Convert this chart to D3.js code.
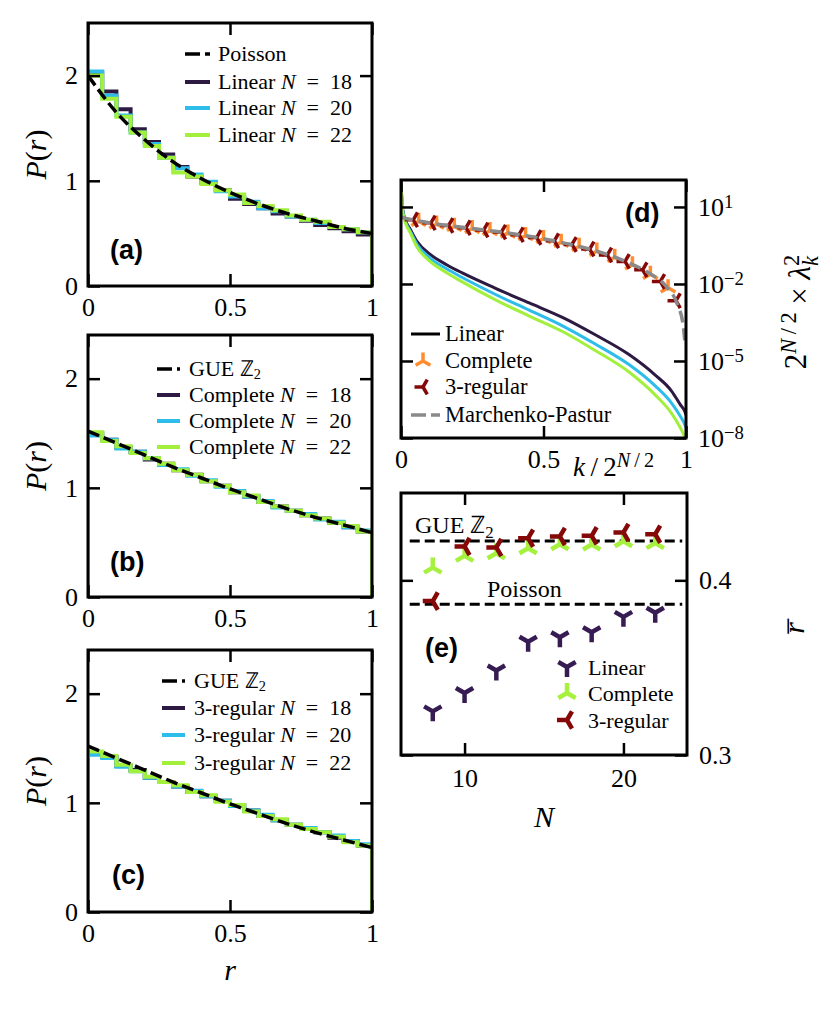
<!DOCTYPE html>
<html>
<head>
<meta charset="utf-8">
<script src="https://cdn.jsdelivr.net/npm/d3@7"></script>
<style>
  body { margin: 0; background: #fff; }
  svg text { font-family: 'Liberation Serif', 'Times New Roman', serif; }
  svg text.plab { font-family: 'Liberation Sans', Arial, sans-serif; font-weight: bold; }
</style>
</head>
<body>
<div id="chart"></div>
<script>
// ---------- data ----------
const sizes = [18, 20, 22];
const binEdges = [0, 0.05, 0.1, 0.15, 0.2, 0.25, 0.3, 0.35, 0.4, 0.45, 0.5,
                  0.55, 0.6, 0.65, 0.7, 0.75, 0.8, 0.85, 0.9, 0.95, 1.0];

// (a) linear graphs, P(r) per bin
const linearHist = [
  [2.03, 1.85, 1.68, 1.49, 1.37, 1.25, 1.13, 1.04, 0.98, 0.91, 0.83, 0.78, 0.74, 0.69, 0.66, 0.62, 0.58, 0.55, 0.52, 0.49],
  [2.04, 1.81, 1.62, 1.46, 1.35, 1.22, 1.12, 1.06, 0.99, 0.90, 0.85, 0.80, 0.74, 0.71, 0.66, 0.63, 0.60, 0.56, 0.54, 0.51],
  [2.00, 1.78, 1.61, 1.46, 1.33, 1.22, 1.08, 1.04, 0.97, 0.91, 0.87, 0.79, 0.76, 0.72, 0.67, 0.63, 0.61, 0.56, 0.54, 0.51]
];
// (b) complete graphs
const completeHist = [
  [1.50, 1.44, 1.37, 1.33, 1.26, 1.22, 1.16, 1.12, 1.06, 1.02, 0.96, 0.92, 0.87, 0.83, 0.79, 0.75, 0.72, 0.68, 0.64, 0.60],
  [1.48, 1.44, 1.36, 1.33, 1.27, 1.21, 1.17, 1.11, 1.07, 1.01, 0.97, 0.92, 0.88, 0.82, 0.79, 0.76, 0.71, 0.69, 0.64, 0.61],
  [1.51, 1.43, 1.38, 1.32, 1.27, 1.22, 1.16, 1.12, 1.06, 1.02, 0.96, 0.93, 0.87, 0.83, 0.79, 0.75, 0.72, 0.68, 0.65, 0.60]
];
// (c) 3-regular graphs
const regularHist = [
  [1.45, 1.42, 1.34, 1.30, 1.23, 1.19, 1.15, 1.10, 1.06, 1.02, 0.98, 0.93, 0.88, 0.84, 0.80, 0.77, 0.73, 0.68, 0.65, 0.61],
  [1.44, 1.41, 1.33, 1.29, 1.23, 1.19, 1.15, 1.11, 1.06, 1.02, 0.97, 0.93, 0.89, 0.84, 0.80, 0.77, 0.73, 0.70, 0.65, 0.62],
  [1.47, 1.43, 1.35, 1.29, 1.24, 1.19, 1.16, 1.10, 1.07, 1.01, 0.98, 0.92, 0.88, 0.85, 0.80, 0.76, 0.73, 0.69, 0.64, 0.61]
];

// reference curves
const refR = [0, 0.1, 0.2, 0.3, 0.4, 0.5, 0.6, 0.7, 0.8, 0.9, 1.0];
const poissonP = [2.0, 1.65, 1.39, 1.18, 1.02, 0.89, 0.78, 0.69, 0.62, 0.55, 0.5];
const gueZ2P = [1.52, 1.41, 1.30, 1.19, 1.09, 0.99, 0.90, 0.81, 0.73, 0.66, 0.59];

// (d) entanglement spectrum, log10(2^{N/2} lambda_k^2)
const linK = [0, 0.006, 0.015, 0.033, 0.056, 0.1, 0.16, 0.215, 0.33, 0.45, 0.57, 0.68, 0.8, 0.89, 0.95, 0.98, 0.995, 1.0];
const linSpecLog = [
  [1.9, 0.9, 0.5, 0.12, -0.34, -0.83, -1.25, -1.57, -2.16, -2.74, -3.32, -3.97, -4.75, -5.53, -6.18, -6.70, -6.95, -7.1],
  [1.9, 0.85, 0.45, 0.05, -0.45, -0.97, -1.41, -1.75, -2.40, -3.02, -3.65, -4.33, -5.14, -5.95, -6.65, -7.15, -7.45, -7.6],
  [1.9, 0.8, 0.4, -0.02, -0.56, -1.10, -1.56, -1.92, -2.61, -3.25, -3.87, -4.58, -5.43, -6.30, -7.05, -7.6, -7.95, -8.1]
];
const compK = [0.062, 0.125, 0.187, 0.25, 0.312, 0.375, 0.437, 0.5, 0.562, 0.625, 0.687, 0.75, 0.812, 0.875, 0.937];
const compSpecLog = [0.44, 0.34, 0.25, 0.16, 0.08, -0.01, -0.11, -0.23, -0.37, -0.53, -0.72, -0.96, -1.25, -1.62, -2.15];
const regK = [0.043, 0.105, 0.167, 0.228, 0.29, 0.352, 0.414, 0.476, 0.538, 0.6, 0.662, 0.724, 0.786, 0.848, 0.91, 0.965];
const regSpecLog = [0.50, 0.38, 0.28, 0.19, 0.10, 0.02, -0.08, -0.19, -0.32, -0.46, -0.64, -0.87, -1.12, -1.45, -1.90, -2.65];
const mpK = [0, 0.03, 0.06, 0.1, 0.215, 0.33, 0.45, 0.57, 0.68, 0.8, 0.87, 0.93, 0.97, 0.99, 0.996];
const mpLog = [0.6, 0.52, 0.46, 0.38, 0.21, 0.05, -0.14, -0.40, -0.70, -1.18, -1.57, -2.09, -2.8, -3.6, -4.25];

// (e) mean gap ratio
const nSites = [8, 10, 12, 14, 16, 18, 20, 22];
const rbarLinear = [0.325, 0.3355, 0.3484, 0.3648, 0.3674, 0.3703, 0.3791, 0.3814];
const rbarComplete = [0.4073, 0.4140, 0.4155, 0.4184, 0.4207, 0.4205, 0.4224, 0.4213];
const rbarRegular = [0.3881, 0.4194, 0.4188, 0.4241, 0.4251, 0.4255, 0.4274, 0.4264];
const rbarGUE = 0.4225;
const rbarPoisson = 0.3863;

// ---------- style ----------
const sizeColors = ["#2d1a42", "#2ebdea", "#a2f03c"];
const orange = "#ff8c2e", darkred = "#860909", gray = "#8a8a8a";
const eColors = { linear: "#361c52", complete: "#a6f03e", regular: "#860909" };

const svg = d3.select("#chart").append("svg")
  .attr("width", 830).attr("height", 1010)
  .style("background", "#fff");

function rich(text, parts) {
  parts.forEach(p => {
    const ts = text.append("tspan").text(p.t);
    if (p.i) ts.attr("font-style", "italic");
    if (p.fs) ts.attr("font-size", p.fs);
    if (p.dy) ts.attr("dy", p.dy);
    if (p.dx) ts.attr("dx", p.dx);
  });
  return text;
}

function styleAxis(g, fs) {
  g.select(".domain").remove();
  g.attr("font-size", fs || 26);
  g.selectAll(".tick line").attr("stroke", "#000").attr("stroke-width", 2.5);
  g.selectAll(".tick text").attr("fill", "#000");
}

function triPath(type, s) {
  const a = 0.866 * s, b = 0.5 * s;
  if (type === "down") return `M0,0L0,${s}M0,0L${-a},${-b}M0,0L${a},${-b}`;
  if (type === "up") return `M0,0L0,${-s}M0,0L${-a},${b}M0,0L${a},${b}`;
  return `M0,0L${-s},0M0,0L${b},${-a}M0,0L${b},${a}`; // left
}

function frame(g, x0, x1, y0, y1) {
  g.append("rect").attr("x", x0).attr("y", y0)
    .attr("width", x1 - x0).attr("height", y1 - y0)
    .attr("fill", "none").attr("stroke", "#000").attr("stroke-width", 3);
}

// ---------- panels (a)-(c) ----------
const zSub = [{ t: "GUE \u2124" }, { t: "2", fs: "0.65em", dy: "0.2em" }];
const histPanels = [
  { id: "a", hist: linearHist, ref: poissonP, refName: [{ t: "Poisson" }], name: "Linear",
    y0: 23, y1: 286, ymax: 2.5, leg: { x0: 185, x1: 210, tx: 218, rows: [54, 82, 108, 135] }, lab: [110, 259] },
  { id: "b", hist: completeHist, ref: gueZ2P, refName: zSub, name: "Complete",
    y0: 335, y1: 597, ymax: 2.4, leg: { x0: 157, x1: 180, tx: 189, rows: [369, 395, 421, 447] }, lab: [110, 571] },
  { id: "c", hist: regularHist, ref: gueZ2P, refName: zSub, name: "3-regular",
    y0: 650, y1: 912, ymax: 2.4, leg: { x0: 162, x1: 185, tx: 194, rows: [681, 708, 735, 763] }, lab: [112, 884] }
];

const xR = d3.scaleLinear().domain([0, 1]).range([88, 372]);

histPanels.forEach(p => {
  const g = svg.append("g");
  const y = d3.scaleLinear().domain([0, p.ymax]).range([p.y1, p.y0]);

  g.append("clipPath").attr("id", "clip-" + p.id)
    .append("rect").attr("x", 88).attr("y", p.y0).attr("width", 284).attr("height", p.y1 - p.y0);
  const plot = g.append("g").attr("clip-path", `url(#clip-${p.id})`);

  const step = d3.line().x(d => xR(d[0])).y(d => y(d[1])).curve(d3.curveStepAfter);
  p.hist.forEach((vals, i) => {
    const pts = [[0, 0]].concat(vals.map((v, j) => [binEdges[j], v]));
    pts.push([1, vals[vals.length - 1]]);
    pts.push([1, 0]);
    plot.append("path").attr("d", step(pts))
      .attr("fill", "none").attr("stroke", sizeColors[i])
      .attr("stroke-width", 4).attr("stroke-linejoin", "miter");
  });

  const curve = d3.line().x((d, i) => xR(refR[i])).y(d => y(d)).curve(d3.curveMonotoneX);
  plot.append("path").attr("d", curve(p.ref))
    .attr("fill", "none").attr("stroke", "#000").attr("stroke-width", 3.5)
    .attr("stroke-dasharray", "12,5");

  // axes, inward ticks on all sides
  const gx = g.append("g").attr("transform", `translate(0,${p.y1})`)
    .call(d3.axisBottom(xR).tickValues([0, 0.5, 1]).tickSize(-12).tickPadding(12).tickFormat(d3.format("")));
  styleAxis(gx);
  const gt = g.append("g").attr("transform", `translate(0,${p.y0})`)
    .call(d3.axisTop(xR).tickValues([0, 0.5, 1]).tickSize(-12).tickFormat(""));
  styleAxis(gt);
  const gy = g.append("g").attr("transform", "translate(88,0)")
    .call(d3.axisLeft(y).tickValues([0, 1, 2]).tickSize(-12).tickPadding(10).tickFormat(d3.format("d")));
  styleAxis(gy);
  const gr = g.append("g").attr("transform", "translate(372,0)")
    .call(d3.axisRight(y).tickValues([0, 1, 2]).tickSize(-12).tickFormat(""));
  styleAxis(gr);

  frame(g, 88, 372, p.y0, p.y1);

  // y label
  rich(g.append("text")
    .attr("transform", `translate(46,${(p.y0 + p.y1) / 2}) rotate(-90)`)
    .attr("text-anchor", "middle").attr("font-size", 30),
    [{ t: "P", i: true }, { t: "(" }, { t: "r", i: true }, { t: ")" }]);

  // legend
  const L = p.leg;
  const lg = g.append("g").attr("font-size", 22);
  lg.append("line").attr("x1", L.x0).attr("x2", L.x1).attr("y1", L.rows[0]).attr("y2", L.rows[0])
    .attr("stroke", "#000").attr("stroke-width", 3.5).attr("stroke-dasharray", "15,5");
  rich(lg.append("text").attr("x", L.tx).attr("y", L.rows[0] + 7), p.refName);
  sizes.forEach((n, i) => {
    const yy = L.rows[i + 1];
    lg.append("line").attr("x1", L.x0).attr("x2", L.x1).attr("y1", yy).attr("y2", yy)
      .attr("stroke", sizeColors[i]).attr("stroke-width", 4);
    rich(lg.append("text").attr("x", L.tx).attr("y", yy + 7),
      [{ t: p.name + " " }, { t: "N", i: true }, { t: "\u2002=\u2002" + n }]);
  });

  g.append("text").attr("class", "plab").attr("x", p.lab[0]).attr("y", p.lab[1])
    .attr("font-size", 27).text(`(${p.id})`);
});

// x label under (c)
svg.append("text").attr("x", 230).attr("y", 980).attr("text-anchor", "middle")
  .attr("font-size", 30).attr("font-style", "italic").text("r");

// ---------- panel (d) ----------
{
  const x0 = 401, x1 = 686, y0 = 180, y1 = 438;
  const g = svg.append("g");
  const x = d3.scaleLinear().domain([0, 1]).range([x0, x1]);
  const y = d3.scaleLog().domain([1e-8, Math.pow(10, 2.05)]).range([y1, y0]);

  g.append("clipPath").attr("id", "clip-d")
    .append("rect").attr("x", x0).attr("y", y0).attr("width", x1 - x0).attr("height", y1 - y0);
  const plot = g.append("g").attr("clip-path", "url(#clip-d)");

  const line = d3.line().x(d => x(d[0])).y(d => y(Math.pow(10, d[1]))).curve(d3.curveMonotoneX);
  linSpecLog.forEach((vals, i) => {
    plot.append("path").attr("d", line(vals.map((v, j) => [linK[j], v])))
      .attr("fill", "none").attr("stroke", sizeColors[i]).attr("stroke-width", 3);
  });

  plot.selectAll(".comp").data(compK).join("path")
    .attr("transform", (k, j) => `translate(${x(k)},${y(Math.pow(10, compSpecLog[j]))})`)
    .attr("d", triPath("up", 8.5)).attr("fill", "none")
    .attr("stroke", orange).attr("stroke-width", 3.5);
  plot.selectAll(".reg").data(regK).join("path")
    .attr("transform", (k, j) => `translate(${x(k)},${y(Math.pow(10, regSpecLog[j]))})`)
    .attr("d", triPath("left", 8.5)).attr("fill", "none")
    .attr("stroke", darkred).attr("stroke-width", 3.5);

  plot.append("path").attr("d", line(mpLog.map((v, j) => [mpK[j], v])))
    .attr("fill", "none").attr("stroke", gray).attr("stroke-width", 3.5)
    .attr("stroke-dasharray", "12,6");

  const gx = g.append("g").attr("transform", `translate(0,${y1})`)
    .call(d3.axisBottom(x).tickValues([0, 0.5, 1]).tickSize(-12).tickPadding(12).tickFormat(d3.format("")));
  styleAxis(gx);
  const gt = g.append("g").attr("transform", `translate(0,${y0})`)
    .call(d3.axisTop(x).tickValues([0, 0.5, 1]).tickSize(-12).tickFormat(""));
  styleAxis(gt);
  const yTicks = [1e1, 1e-2, 1e-5, 1e-8];
  const gl = g.append("g").attr("transform", `translate(${x0},0)`)
    .call(d3.axisLeft(y).tickValues(yTicks).tickSize(-12).tickFormat(""));
  styleAxis(gl);
  const gr = g.append("g").attr("transform", `translate(${x1},0)`)
    .call(d3.axisRight(y).tickValues(yTicks).tickSize(-12).tickPadding(12).tickFormat(""));
  styleAxis(gr);
  gr.selectAll(".tick text").each(function (d) {
    const e = Math.round(Math.log10(d));
    const t = d3.select(this);
    t.append("tspan").text("10");
    t.append("tspan").attr("dy", "-0.42em").attr("font-size", "0.72em").text(e < 0 ? "\u2212" + (-e) : String(e));
  });

  frame(g, x0, x1, y0, y1);

  // axis labels
  rich(g.append("text").attr("x", 573).attr("y", 476).attr("font-size", 27),
    [{ t: "k", i: true }, { t: "\u2009/\u2009" }, { t: "2" },
     { t: "N", i: true, fs: "0.75em", dy: "-0.45em" }, { t: "\u2009/\u20092", fs: "0.75em" }]);

  rich(g.append("text").attr("transform", "translate(806,312) rotate(-90)")
    .attr("text-anchor", "middle").attr("font-size", 31),
    [{ t: "2" }, { t: "N", i: true, fs: "0.72em", dy: "-0.45em" }, { t: "\u2009/\u20092", fs: "0.72em" },
     { t: " \u00d7 ", dy: "0.45em" }, { t: "\u03bb", i: true },
     { t: "2", fs: "0.72em", dy: "-0.48em" }, { t: "k", i: true, fs: "0.72em", dx: "-0.5em", dy: "0.85em" }]);

  // legend
  const lg = g.append("g").attr("font-size", 22.5);
  const rows = [334, 361, 387, 415];
  lg.append("line").attr("x1", 411).attr("x2", 440).attr("y1", rows[0]).attr("y2", rows[0])
    .attr("stroke", "#000").attr("stroke-width", 3);
  lg.append("path").attr("transform", `translate(423,${rows[1]})`).attr("d", triPath("up", 8.5))
    .attr("fill", "none").attr("stroke", orange).attr("stroke-width", 3.5);
  lg.append("path").attr("transform", `translate(423,${rows[2]})`).attr("d", triPath("left", 8.5))
    .attr("fill", "none").attr("stroke", darkred).attr("stroke-width", 3.5);
  lg.append("line").attr("x1", 411).attr("x2", 440).attr("y1", rows[3]).attr("y2", rows[3])
    .attr("stroke", gray).attr("stroke-width", 3.5).attr("stroke-dasharray", "15,5");
  ["Linear", "Complete", "3-regular", "Marchenko-Pastur"].forEach((s, i) => {
    lg.append("text").attr("x", 445).attr("y", rows[i] + 7).text(s);
  });

  g.append("text").attr("class", "plab").attr("x", 625).attr("y", 222)
    .attr("font-size", 27).text("(d)");
}

// ---------- panel (e) ----------
{
  const x0 = 401, x1 = 687, y0 = 493, y1 = 755;
  const g = svg.append("g");
  const x = d3.scaleLinear().domain([6, 24]).range([x0, x1]);
  const y = d3.scaleLinear().domain([0.3, 0.45]).range([y1, y0]);

  [[rbarGUE], [rbarPoisson]].forEach(v => {
    g.append("line").attr("x1", x(6.55)).attr("x2", x(23.7))
      .attr("y1", y(v[0])).attr("y2", y(v[0]))
      .attr("stroke", "#000").attr("stroke-width", 3).attr("stroke-dasharray", "10,5");
  });

  const series = [
    { vals: rbarLinear, type: "down", color: eColors.linear },
    { vals: rbarComplete, type: "up", color: eColors.complete },
    { vals: rbarRegular, type: "left", color: eColors.regular }
  ];
  series.forEach(s => {
    g.append("g").selectAll("path").data(nSites).join("path")
      .attr("transform", (n, j) => `translate(${x(n)},${y(s.vals[j])})`)
      .attr("d", triPath(s.type, 10)).attr("fill", "none")
      .attr("stroke", s.color).attr("stroke-width", 4.5);
  });

  const gx = g.append("g").attr("transform", `translate(0,${y1})`)
    .call(d3.axisBottom(x).tickValues([10, 20]).tickSize(-12).tickPadding(14).tickFormat(d3.format("d")));
  styleAxis(gx);
  const gt = g.append("g").attr("transform", `translate(0,${y0})`)
    .call(d3.axisTop(x).tickValues([10, 20]).tickSize(-12).tickFormat(""));
  styleAxis(gt);
  const gl = g.append("g").attr("transform", `translate(${x0},0)`)
    .call(d3.axisLeft(y).tickValues([0.3, 0.4]).tickSize(-12).tickFormat(""));
  styleAxis(gl);
  const gr = g.append("g").attr("transform", `translate(${x1},0)`)
    .call(d3.axisRight(y).tickValues([0.3, 0.4]).tickSize(-12).tickPadding(12).tickFormat(d3.format(".1f")));
  styleAxis(gr);

  frame(g, x0, x1, y0, y1);

  rich(g.append("text").attr("x", 415).attr("y", 533).attr("font-size", 24),
    [{ t: "GUE \u2124" }, { t: "2", fs: "0.7em", dy: "0.3em" }]);
  g.append("text").attr("x", 487).attr("y", 597).attr("font-size", 24).text("Poisson");
  g.append("text").attr("class", "plab").attr("x", 425).attr("y", 657)
    .attr("font-size", 27).text("(e)");

  const lg = g.append("g").attr("font-size", 22);
  const rows = [667, 693, 720];
  series.forEach((s, i) => {
    lg.append("path").attr("transform", `translate(567,${rows[i]})`).attr("d", triPath(s.type, 10))
      .attr("fill", "none").attr("stroke", s.color).attr("stroke-width", 4.5);
    lg.append("text").attr("x", 588).attr("y", rows[i] + 8).text(["Linear", "Complete", "3-regular"][i]);
  });

  // axis labels
  svg.append("text").attr("x", 544).attr("y", 827).attr("text-anchor", "middle")
    .attr("font-size", 30).attr("font-style", "italic").text("N");
  svg.append("text").attr("transform", "translate(804,628) rotate(-90)")
    .attr("text-anchor", "middle").attr("font-size", 30)
    .attr("font-style", "italic").text("r\u0305");
}
</script>
</body>
</html>
